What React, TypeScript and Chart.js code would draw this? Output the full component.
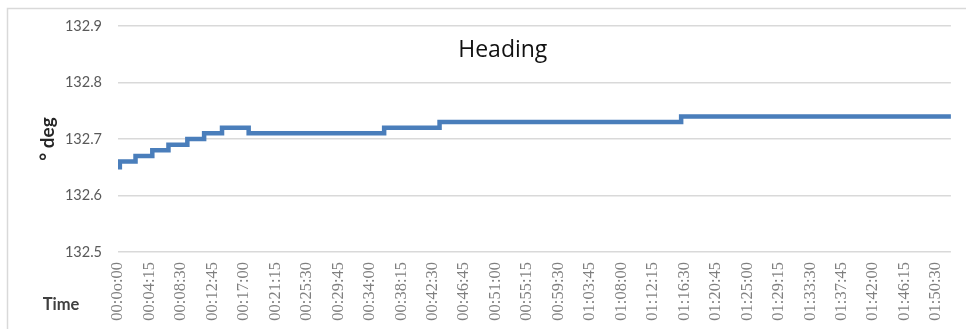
import React, { useEffect, useRef } from "react";
import { Chart, registerables } from "chart.js";

Chart.register(...registerables);

// Time (seconds from start) at which each heading value begins
const stepTimes = [0, 15, 142, 278, 409, 562, 698, 843, 1059, 2157, 2606, 4564, 6750];
// Heading values (° deg)
const headingValues = [132.65, 132.66, 132.67, 132.68, 132.69, 132.7, 132.71, 132.72, 132.71, 132.72, 132.73, 132.74, 132.74];

const tickStepSeconds = 255;
const tickLabels = [
  "00:0o:00", "00:04:15", "00:08:30", "00:12:45", "00:17:00", "00:21:15", "00:25:30",
  "00:29:45", "00:34:00", "00:38:15", "00:42:30", "00:46:45", "00:51:00", "00:55:15",
  "00:59:30", "01:03:45", "01:08:00", "01:12:15", "01:16:30", "01:20:45", "01:25:00",
  "01:29:15", "01:33:30", "01:37:45", "01:42:00", "01:46:15", "01:50:30",
];
const yTicks = [132.5, 132.6, 132.7, 132.8, 132.9];

const chartTitle = "Heading";
const yTitle = "° deg";
const xTitle = "Time";

const decorPlugin = {
  id: "decor",
  beforeDraw(chart: any) {
    const { ctx, width, height } = chart;
    ctx.save();
    ctx.fillStyle = "#ffffff";
    ctx.fillRect(0, 0, width, height);
    ctx.strokeStyle = "#d9d9d9";
    ctx.lineWidth = 1.5;
    ctx.beginPath();
    ctx.moveTo(7.5, height);
    ctx.lineTo(7.5, 8.5);
    ctx.lineTo(width, 8.5);
    ctx.stroke();
    ctx.restore();
  },
  afterDraw(chart: any) {
    const { ctx, chartArea } = chart;
    const a = chartArea;
    ctx.save();
    // Title
    ctx.fillStyle = "#111111";
    ctx.font = "23px 'Open Sans', sans-serif";
    ctx.textAlign = "center";
    ctx.textBaseline = "middle";
    ctx.fillText(chartTitle, a.left + (a.right - a.left) * 0.462, a.top + 24);
    // Y title
    ctx.fillStyle = "#262626";
    ctx.font = "bold 19px Lato, sans-serif";
    ctx.translate(a.left - 70, (a.top + a.bottom) / 2 + 0);
    ctx.rotate(-Math.PI / 2);
    ctx.fillText(yTitle, 0, 0);
    ctx.restore();
    ctx.save();
    ctx.fillStyle = "#404040";
    ctx.font = "bold 16.5px Lato, sans-serif";
    ctx.textAlign = "center";
    ctx.textBaseline = "middle";
    ctx.fillText(xTitle, a.left - 57, a.bottom + 53);
    ctx.restore();
  },
};

export default function App() {
  const canvasRef = useRef<HTMLCanvasElement | null>(null);

  useEffect(() => {
    if (!canvasRef.current) return;
    const points = stepTimes.map((t, i) => ({ x: t, y: headingValues[i] }));
    const chart = new Chart(canvasRef.current, {
      type: "line",
      data: {
        datasets: [
          {
            data: points,
            borderColor: "#4a7ebb",
            borderWidth: 4.5,
            pointRadius: 0,
            stepped: "before",
            borderJoinStyle: "miter",
            fill: false,
          },
        ],
      },
      options: {
        animation: false,
        responsive: false,
        maintainAspectRatio: false,
        layout: { padding: { left: 0, top: 26, right: 7, bottom: 0 } },
        plugins: { legend: { display: false }, tooltip: { enabled: false }, title: { display: false } },
        scales: {
          x: {
            type: "linear",
            min: 0,
            max: stepTimes[stepTimes.length - 1],
            afterBuildTicks: (scale: any) => {
              scale.ticks = tickLabels.map((_, i) => ({ value: i * tickStepSeconds }));
            },
            afterFit: (scale: any) => {
              scale.height = 77;
            },
            grid: { display: false, drawTicks: false },
            border: { display: false },
            ticks: {
              autoSkip: false,
              minRotation: 90,
              maxRotation: 90,
              padding: 10,
              color: "#7f7f7f",
              font: { family: "'Liberation Serif', serif", size: 16.5 },
              callback: (_v: any, index: number) => tickLabels[index],
            },
          },
          y: {
            min: yTicks[0],
            max: yTicks[yTicks.length - 1],
            afterBuildTicks: (scale: any) => {
              scale.ticks = yTicks.map((v) => ({ value: v }));
            },
            afterFit: (scale: any) => {
              scale.width = 118;
            },
            grid: { color: "#d9d9d9", lineWidth: 1.5, drawTicks: false },
            border: { display: false },
            ticks: {
              padding: 16,
              color: "#595959",
              font: { family: "Lato, sans-serif", size: 14.5 },
              callback: (v: any) => Number(v).toFixed(1),
            },
          },
        },
      },
      plugins: [decorPlugin],
    });
    return () => chart.destroy();
  }, []);

  return (
    <div style={{ position: "fixed", left: 0, top: 0, width: 966, height: 329 }}>
      <canvas ref={canvasRef} width={966} height={329} style={{ width: 966, height: 329 }} />
    </div>
  );
}
